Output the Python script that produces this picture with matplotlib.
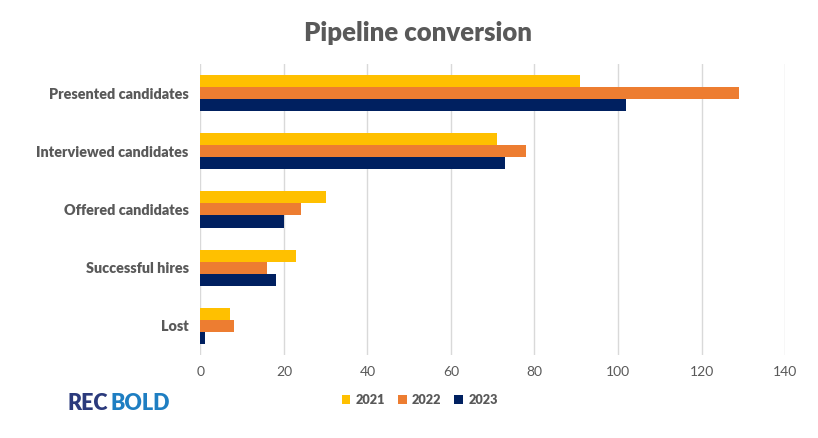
import matplotlib
matplotlib.use("Agg")
import matplotlib.pyplot as plt
import numpy as np
from matplotlib.patches import Patch

categories = ["Presented candidates", "Interviewed candidates", "Offered candidates",
              "Successful hires", "Lost"]
years = ["2021", "2022", "2023"]
v2021 = [91, 71, 30, 23, 7]
v2022 = [129, 78, 24, 16, 8]
v2023 = [102, 73, 20, 18, 1]
colors = ["#FFC000", "#ED7D31", "#002060"]
xticks = [0, 20, 40, 60, 80, 100, 120, 140]

plt.rcParams['font.family'] = ['Lato', 'DejaVu Sans']
fig = plt.figure(figsize=(8.18, 4.38), dpi=100)
ax = fig.add_axes([0.245, 0.1895, 0.7147, 0.6645])

y = np.arange(len(categories))
h = 0.207
for i, (vals, c) in enumerate(zip([v2021, v2022, v2023], colors)):
    ax.barh(y + (i - 1) * h, vals, height=h, color=c, label=years[i], zorder=3)

ax.set_ylim(len(categories) - 0.5, -0.5)
ax.set_xlim(0, 140)
ax.set_xticks(xticks)
ax.set_xticklabels([str(t) for t in xticks], color="#595959", fontsize=10)
ax.set_yticks(y)
ax.set_yticklabels(categories, color="#595959", fontsize=10.4, fontweight="heavy")
ax.tick_params(axis="both", length=0)
ax.tick_params(axis="x", pad=8)
ax.tick_params(axis="y", pad=8.5)
ax.grid(axis="x", color="#D9D9D9", linewidth=1, zorder=0)
for s in ax.spines.values():
    s.set_visible(False)

fig.text(0.511, 0.925, "Pipeline conversion", ha="center", va="center",
         fontsize=18.5, fontweight="heavy", color="#595959")

handles = [Patch(facecolor=c, label=yr) for c, yr in zip(colors, years)]
fig.legend(handles=handles, loc="center", bbox_to_anchor=(0.513, 0.087), ncol=3,
           frameon=False, handlelength=0.7, handleheight=0.7, handletextpad=0.4,
           columnspacing=1.0, prop={"weight": "heavy", "size": 9.2},
           labelcolor="#595959")

t1 = fig.text(0.083, 0.079, "REC", ha="left", va="center", fontsize=15.5,
              fontweight="heavy", color="#2B3A7C")
fig.canvas.draw()
bb = t1.get_window_extent()
x2 = bb.x1 / fig.bbox.width
fig.text(x2 + 0.002, 0.079, "BOLD", ha="left", va="center", fontsize=15.5,
         fontweight="heavy", color="#1E7EC2")

fig.savefig("out.png", dpi=100)
